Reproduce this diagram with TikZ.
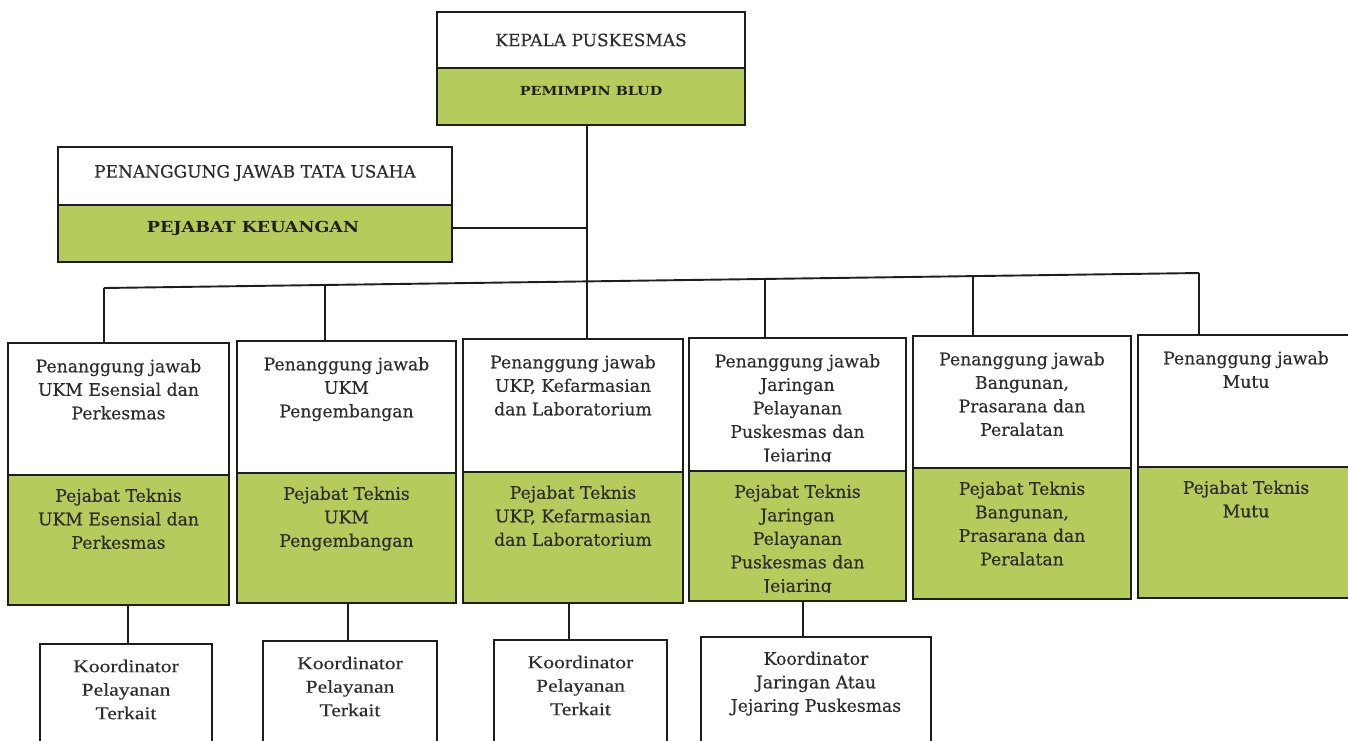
\documentclass[tikz,border=0pt]{standalone}
\usepackage{fontspec}
\setmainfont[FakeBold=0.4]{DejaVu Serif}
\newfontfamily\bkbold[FakeStretch=1.15]{DejaVu Serif Bold}
\newfontfamily\kofont[FakeStretch=1.2,FakeBold=0.4]{Liberation Serif}
\definecolor{gr}{RGB}{181,204,92}
\definecolor{ln}{RGB}{30,30,30}
\definecolor{tx}{RGB}{45,45,45}
\newcommand\mkcol[8]{%
  \node[wsec, minimum width={(#3-#2)*1pt}, minimum height={(#5-#4)*1pt}] (w#1) at (#2,#4) {};
  \node[gsec, minimum width={(#3-#2)*1pt}, minimum height={(#6-#5)*1pt}] (g#1) at (#2,#5) {};
  \node[lbl] (tw#1) at ([yshift=-16pt]w#1.north) {#7};
  \node[lbl] (tg#1) at ([yshift=-13.5pt]g#1.north) {#8};
}
\begin{document}
\begin{tikzpicture}[x=1pt,y=-1pt,
  sec/.style={draw=ln, line width=1.9pt, anchor=north west, inner sep=0pt, outer sep=0pt},
  wsec/.style={sec, fill=white},
  gsec/.style={sec, fill=gr},
  lbl/.style={anchor=north, inner sep=0pt, align=center, text=tx, font=\fontsize{17.2}{23.5}\selectfont},
  klbl/.style={anchor=north, inner sep=0pt, align=center, text=tx, font=\kofont\fontsize{18}{23.5}\selectfont},
  hdr/.style={inner sep=0pt, text=tx, font=\fontsize{17}{20}\selectfont},
  hdrb/.style={inner sep=0pt, text=tx!70!black, font=\bkbold\fontsize{12.5}{15}\selectfont},
  hdrbb/.style={inner sep=0pt, text=tx!70!black, font=\bkbold\fontsize{15.2}{17}\selectfont},
  conn/.style={draw=ln, line width=1.9pt}]
\useasboundingbox[fill=white] (0,0) rectangle (1348,740);

\coordinate (b1) at (104,288);
\coordinate (b2) at (325,285);
\coordinate (b3) at (587,281.4);
\coordinate (b4) at (765,279);
\coordinate (b5) at (973,276.1);
\coordinate (b6) at (1199,273);

% top box
\node[wsec, minimum width=308pt, minimum height=56pt] (kw) at (437,12) {};
\node[gsec, minimum width=308pt, minimum height=57pt] (kg) at (437,68) {};
\node[hdr] (kt) at (591,40) {KEPALA PUSKESMAS};
\node[hdrb] (kb) at (591,91) {PEMIMPIN BLUD};

% left box
\node[wsec, minimum width=394pt, minimum height=58pt] (lw) at (58,147) {};
\node[gsec, minimum width=394pt, minimum height=57pt] (lg) at (58,205) {};
\node[hdr] (lt) at (255,173) {PENANGGUNG JAWAB TATA USAHA};
\node[hdrbb] (lb) at (253,228) {PEJABAT KEUANGAN};

\draw[conn] (kg.south -| b3) -- (b3);
\draw[conn] ([yshift=5.5pt]lg.east) coordinate (lc) -- (lc -| b3);
\draw[conn] (b1) -- (b6);

% columns
\mkcol{1}{8}{229}{343}{475}{605}{Penanggung jawab\\UKM Esensial dan\\Perkesmas}{Pejabat Teknis\\UKM Esensial dan\\Perkesmas}
\mkcol{2}{237}{456}{341}{473}{603}{Penanggung jawab\\UKM\\Pengembangan}{Pejabat Teknis\\UKM\\Pengembangan}
\mkcol{3}{463}{683}{339}{472}{603}{Penanggung jawab\\UKP, Kefarmasian\\dan Laboratorium}{Pejabat Teknis\\UKP, Kefarmasian\\dan Laboratorium}
\mkcol{5}{913}{1131}{336}{468}{599}{Penanggung jawab\\Bangunan,\\Prasarana dan\\Peralatan}{Pejabat Teknis\\Bangunan,\\Prasarana dan\\Peralatan}
\mkcol{6}{1138}{1354}{335}{467}{598}{Penanggung jawab\\Mutu}{Pejabat Teknis\\Mutu}

% column 4 with clipped text
\node[wsec, minimum width=217pt, minimum height=133pt] (w4) at (689,338) {};
\node[gsec, minimum width=217pt, minimum height=130pt] (g4) at (689,471) {};
\begin{scope}
  \clip (689,338) rectangle (906,461);
  \node[lbl] (tw4) at ([yshift=-16pt]w4.north) {Penanggung jawab\\Jaringan\\Pelayanan\\Puskesmas dan\\Jejaring};
\end{scope}
\begin{scope}
  \clip (689,471) rectangle (906,592);
  \node[lbl] (tg4) at ([yshift=-13.5pt]g4.north) {Pejabat Teknis\\Jaringan\\Pelayanan\\Puskesmas dan\\Jejaring};
\end{scope}

% drops from bus
\foreach \i in {1,...,6} {\draw[conn] (b\i) -- (b\i |- w\i.north);}

% koordinator boxes
\node[wsec, minimum width=172pt, minimum height=120pt] (k1) at (40,644) {};
\node[wsec, minimum width=174pt, minimum height=124pt] (k2) at (263,641) {};
\node[wsec, minimum width=173pt, minimum height=124pt] (k3) at (494,640) {};
\node[wsec, minimum width=230pt, minimum height=127pt] (k4) at (701,637) {};
\node[klbl] (tk1) at ([yshift=-15.5pt]k1.north) {Koordinator\\Pelayanan\\Terkait};
\node[klbl] (tk2) at ([yshift=-15.5pt]k2.north) {Koordinator\\Pelayanan\\Terkait};
\node[klbl] (tk3) at ([yshift=-15.5pt]k3.north) {Koordinator\\Pelayanan\\Terkait};
\node[lbl] (tk4) at ([yshift=-14.5pt]k4.north) {Koordinator\\Jaringan Atau\\Jejaring Puskesmas};

\coordinate (d1) at (128,620);
\coordinate (d2) at (348,620);
\coordinate (d3) at (569,620);
\coordinate (d4) at (803,620);
\foreach \i in {1,...,4} {\draw[conn] (d\i |- g\i.south) -- (d\i |- k\i.north);}
\end{tikzpicture}
\end{document}
